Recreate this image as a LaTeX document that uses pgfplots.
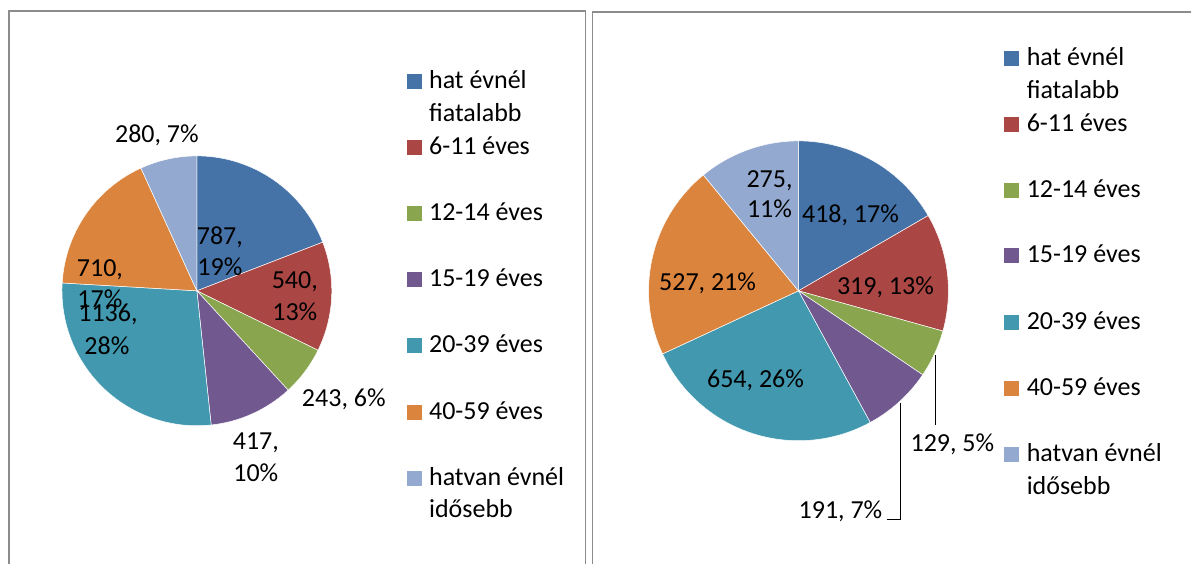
\documentclass[border=0pt]{standalone}
\usepackage{pgfplots}
\pgfplotsset{compat=1.18}
\usepackage{pgfplotstable}
\usepackage{fontspec}
\setmainfont{Carlito}
\definecolor{c1}{HTML}{4572A7}
\definecolor{c2}{HTML}{AA4643}
\definecolor{c3}{HTML}{89A54E}
\definecolor{c4}{HTML}{71588F}
\definecolor{c5}{HTML}{4198AF}
\definecolor{c6}{HTML}{DB843D}
\definecolor{c7}{HTML}{93A9CF}
\definecolor{frame}{HTML}{8C8C8C}

\pgfplotstableread{
value col
787  c1
540  c2
243  c3
417  c4
1136 c5
710  c6
280  c7
}\leftpie
\pgfplotstableread{
value col
418 c1
319 c2
129 c3
191 c4
654 c5
527 c6
275 c7
}\rightpie

% #1 table, #2 cx (px), #3 cy (px), #4 radius (px)
\newcommand\drawpie[4]{%
  \xdef\total{0}%
  \foreach \i in {0,...,6}{%
    \pgfplotstablegetelem{\i}{value}\of#1\let\v\pgfplotsretval
    \pgfmathsetmacro\t{\total+\v}\xdef\total{\t}%
  }%
  \xdef\cum{0}%
  \foreach \i in {0,...,6}{%
    \pgfplotstablegetelem{\i}{value}\of#1\let\v\pgfplotsretval
    \pgfplotstablegetelem{\i}{col}\of#1\let\c\pgfplotsretval
    \pgfmathsetmacro\aa{90-(\cum/\total)*360}%
    \pgfmathsetmacro\bb{90-((\cum+\v)/\total)*360}%
    \pgfmathsetmacro\rr{#4*0.5}%
    \edef\cmd{\noexpand\fill[fill=\c, draw=white, line width=0.25pt] (axis cs:#2,#3) -- ++(\aa:\rr pt) arc[start angle=\aa, end angle=\bb, radius=\rr pt] -- cycle;}%
    \cmd
    \pgfmathsetmacro\t{\cum+\v}\xdef\cum{\t}%
  }%
}
\newcommand\legitem[4]{% x, y baseline, color, text
  \fill[#3] (axis cs:#1,#2-15) rectangle (axis cs:#1+15,#2);
  \node[anchor=base west] at (axis cs:#1+22,#2) {#4};
}

\begin{document}
\begin{tikzpicture}[font=\fontsize{13pt}{15.5pt}\selectfont, every node/.style={inner sep=0pt}]
\begin{axis}[
  at={(0,0)}, anchor=south west,
  x=0.5pt, y=0.5pt, scale only axis,
  xmin=0, xmax=1192, ymin=0, ymax=564, y dir=reverse,
  hide axis, clip=false,
]
\path (axis cs:0,0) rectangle (axis cs:1192,564);
% frames
\draw[frame, line width=0.75pt] (axis cs:9,564) -- (axis cs:9,11) -- (axis cs:586,11) -- (axis cs:586,564);
\draw[frame, line width=0.75pt] (axis cs:593,564) -- (axis cs:593,12) -- (axis cs:1192,12);

\drawpie{\leftpie}{197}{291}{135}
\drawpie{\rightpie}{799}{291}{150}

% left data labels
\node[anchor=base] at (axis cs:157,143) {280, 7\%};
\node[anchor=base] at (axis cs:220,245) {787,};
\node[anchor=base] at (axis cs:220,276) {19\%};
\node[anchor=base] at (axis cs:295,289) {540,};
\node[anchor=base] at (axis cs:295,321) {13\%};
\node[anchor=base] at (axis cs:344,407) {243, 6\%};
\node[anchor=base] at (axis cs:256,450) {417,};
\node[anchor=base] at (axis cs:256,482) {10\%};
\node[anchor=base] at (axis cs:100,277) {710,};
\node[anchor=base] at (axis cs:100,308) {17\%};
\node[anchor=base] at (axis cs:108,322) {1136,};
\node[anchor=base] at (axis cs:107,355) {28\%};

% right data labels
\node[anchor=base] at (axis cs:770,188) {275,};
\node[anchor=base] at (axis cs:770,218) {11\%};
\node[anchor=base] at (axis cs:851,223) {418, 17\%};
\node[anchor=base] at (axis cs:886,295) {319, 13\%};
\node[anchor=base] at (axis cs:953,452) {129, 5\%};
\node[anchor=base] at (axis cs:841,519) {191, 7\%};
\node[anchor=base] at (axis cs:708,291) {527, 21\%};
\node[anchor=base] at (axis cs:756,388) {654, 26\%};
\draw[black, line width=0.5pt] (axis cs:936,355) -- (axis cs:936,425);
\draw[black, line width=0.5pt] (axis cs:901,403) -- (axis cs:901,520) -- (axis cs:888,520);

% left legend
\legitem{407}{89}{c1}{hat évnél}
\node[anchor=base west] at (axis cs:429,122) {fiatalabb};
\legitem{407}{155}{c2}{6-11 éves}
\legitem{407}{221}{c3}{12-14 éves}
\legitem{407}{287}{c4}{15-19 éves}
\legitem{407}{353}{c5}{20-39 éves}
\legitem{407}{420}{c6}{40-59 éves}
\legitem{407}{486}{c7}{hatvan évnél}
\node[anchor=base west] at (axis cs:429,518) {idősebb};

% right legend
\legitem{1005}{66}{c1}{hat évnél}
\node[anchor=base west] at (axis cs:1027,99) {fiatalabb};
\legitem{1005}{132}{c2}{6-11 éves}
\legitem{1005}{198}{c3}{12-14 éves}
\legitem{1005}{263}{c4}{15-19 éves}
\legitem{1005}{330}{c5}{20-39 éves}
\legitem{1005}{396}{c6}{40-59 éves}
\legitem{1005}{462}{c7}{hatvan évnél}
\node[anchor=base west] at (axis cs:1027,495) {idősebb};
\end{axis}
\end{tikzpicture}
\end{document}
